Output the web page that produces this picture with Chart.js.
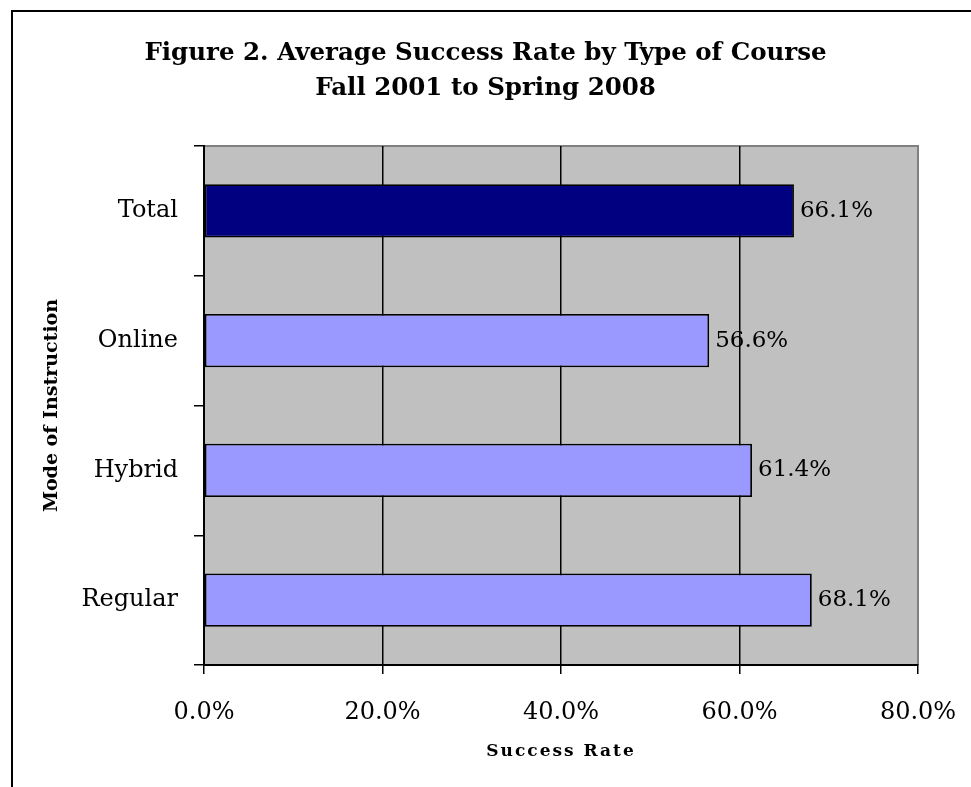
<!DOCTYPE html>
<html>
<head>
<meta charset="utf-8">
<script src="https://cdn.jsdelivr.net/npm/chart.js@4/dist/chart.umd.min.js"></script>
<style>
  html, body { margin: 0; padding: 0; background: #fff; overflow: hidden; }
  #frame { position: absolute; left: 11px; top: 10px; width: 1100px; height: 900px; border: 2px solid #000; box-sizing: border-box; }
  #wrap { position: absolute; left: 0; top: 0; width: 971px; height: 787px; }
</style>
</head>
<body>
<div id="frame"></div>
<div id="wrap"><canvas id="c" width="971" height="787"></canvas></div>
<script>
// ---- data ----
const categories = ['Total', 'Online', 'Hybrid', 'Regular'];
const successRates = [66.1, 56.6, 61.4, 68.1];
const titleLines = ['Figure 2. Average Success Rate by Type of Course', 'Fall 2001 to Spring 2008'];
const xAxisTitle = 'Success Rate';
const yAxisTitle = 'Mode of Instruction';
const xMin = 0, xMax = 80, xStep = 20;

const SERIF = '"DejaVu Serif", "Liberation Serif", serif';

const plotBg = {
  id: 'plotBg',
  beforeDraw(chart) {
    const a = chart.chartArea, ctx = chart.ctx;
    ctx.save();
    ctx.fillStyle = '#C0C0C0';
    ctx.fillRect(a.left, a.top, a.right - a.left, a.bottom - a.top);
    ctx.strokeStyle = '#808080';
    ctx.lineWidth = 2;
    ctx.beginPath();
    ctx.moveTo(a.left, a.top); ctx.lineTo(a.right, a.top); ctx.lineTo(a.right, a.bottom);
    ctx.stroke();
    ctx.restore();
  }
};

const texts = {
  id: 'texts',
  afterDraw(chart) {
    const ctx = chart.ctx, a = chart.chartArea;
    ctx.save();
    ctx.fillStyle = '#000';
    ctx.textAlign = 'center';
    ctx.textBaseline = 'middle';
    ctx.font = 'bold 24.5px ' + SERIF;
    const cx = chart.width / 2;
    titleLines.forEach((t, i) => ctx.fillText(t, cx, 54 + i * 35));
    ctx.font = 'bold 17px ' + SERIF;
    if ('letterSpacing' in ctx) ctx.letterSpacing = '2px';
    ctx.fillText(xAxisTitle, (a.left + a.right) / 2, 752);
    ctx.restore();
  }
};

const valueLabels = {
  id: 'valueLabels',
  afterDatasetsDraw(chart) {
    const ctx = chart.ctx;
    const meta = chart.getDatasetMeta(0);
    ctx.save();
    ctx.font = '23px ' + SERIF;
    ctx.fillStyle = '#000';
    ctx.textAlign = 'left';
    ctx.textBaseline = 'middle';
    meta.data.forEach((bar, i) => {
      ctx.fillText(successRates[i].toFixed(1) + '%', bar.x + 6, bar.y);
    });
    ctx.restore();
  }
};

new Chart(document.getElementById('c'), {
  type: 'bar',
  data: {
    labels: categories,
    datasets: [{
      data: successRates,
      backgroundColor: categories.map((c, i) => i === 0 ? '#000080' : '#9999FF'),
      borderColor: '#000',
      borderWidth: 1.8,
      borderSkipped: false,
      barPercentage: 0.41,
      categoryPercentage: 1.0
    }]
  },
  options: {
    indexAxis: 'y',
    responsive: false,
    animation: false,
    layout: { padding: { left: 0, right: 53, top: 146, bottom: 0 } },
    plugins: {
      legend: { display: false },
      tooltip: { enabled: false },
      title: { display: false }
    },
    scales: {
      x: {
        min: xMin, max: xMax,
        ticks: {
          stepSize: xStep,
          color: '#000',
          font: { family: SERIF, size: 24 },
          padding: 24,
          callback: v => v.toFixed(1) + '%'
        },
        grid: {
          color: ctx => (ctx.tick && ctx.tick.value === xMax) ? '#808080' : '#000',
          tickColor: '#000',
          lineWidth: 1.5,
          tickLength: 9
        },
        border: { color: '#000', width: 2 },
        title: { display: false },
        afterFit: s => { s.height = 122; s.paddingLeft = 0; s.paddingRight = 0; }
      },
      y: {
        ticks: {
          color: '#000',
          font: { family: SERIF, size: 24 },
          padding: 16
        },
        grid: {
          drawOnChartArea: false,
          color: '#000',
          tickColor: '#000',
          lineWidth: 1.5,
          tickLength: 10,
          offset: true
        },
        border: { color: '#000', width: 2 },
        title: {
          display: true,
          text: yAxisTitle,
          color: '#000',
          font: { family: SERIF, size: 19, weight: 'bold' },
          padding: { top: 41, bottom: 0 }
        },
        afterFit: s => { s.width = 204; s.paddingTop = 0; s.paddingBottom = 0; }
      }
    }
  },
  plugins: [plotBg, valueLabels, texts]
});
</script>
</body>
</html>
